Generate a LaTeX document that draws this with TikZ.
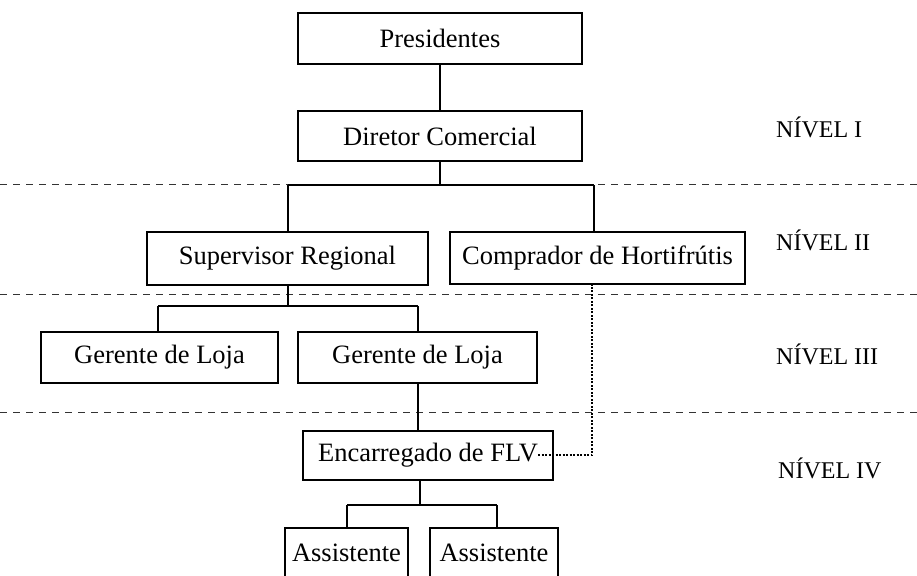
\documentclass[tikz,border=0pt]{standalone}
\usepackage{fontspec}
\setmainfont{Liberation Serif}
\begin{document}
\begin{tikzpicture}[x=1pt,y=-1pt,
  box/.style={draw, line width=1.1pt, inner sep=0pt, font=\fontsize{26.5}{31}\selectfont},
  conn/.style={line width=1.3pt},
  sep/.style={line width=0.6pt, dash pattern=on 7pt off 6pt, black!80},
  dotconn/.style={line width=1.1pt, dash pattern=on 2pt off 1.5pt},
  lvl/.style={anchor=west, inner sep=0pt, font=\fontsize{24}{28}\selectfont}]
\useasboundingbox (0,0) rectangle (917,575);
\clip (0,0) rectangle (917,575);
% level separators
\draw[sep] (0,184) -- (917,184);
\draw[sep] (0,294) -- (917,294);
\draw[sep] (0,412) -- (917,412);
% boxes
\node[box, minimum width=284pt, minimum height=51pt] (pres) at (440,38.5) {Presidentes};
\node[box, minimum width=284pt, minimum height=50pt] (dir) at (440,136) {Diretor Comercial};
\node[box, minimum width=281pt, minimum height=53pt] (sup) at (287.5,258.5) {Supervisor Regional};
\node[box, minimum width=295pt, minimum height=52pt] (comp) at (597.5,258) {Comprador de Hortifrútis};
\node[box, minimum width=237pt, minimum height=51pt] (ger1) at (159.5,357.5) {Gerente de Loja};
\node[box, minimum width=239pt, minimum height=51pt] (ger2) at (417.5,357.5) {Gerente de Loja};
\node[box, minimum width=250pt, minimum height=49pt] (enc) at (428,455.5) {Encarregado de FLV\hspace{8pt}};
\node[box, minimum width=123pt, minimum height=50pt] (as1) at (346.5,553) {Assistente};
\node[box, minimum width=128pt, minimum height=50pt] (as2) at (494,553) {Assistente};
% level labels
\node[lvl] (l1) at (776,127) {NÍVEL I};
\node[lvl] (l2) at (776,240) {NÍVEL II};
\node[lvl] (l3) at (776,354) {NÍVEL III};
\node[lvl] (l4) at (778,468) {NÍVEL IV};
% coordinates for bars
\coordinate (b1) at (440,185);
\coordinate (b1l) at (288,185);
\coordinate (b1r) at (594,185);
\coordinate (b2) at (288,306);
\coordinate (b2l) at (158,306);
\coordinate (b2r) at (418,306);
\coordinate (g2d) at (418,383);
\coordinate (b3) at (420,505);
\coordinate (b3l) at (347,505);
\coordinate (b3r) at (497,505);
\coordinate (dotstart) at (538,455);
\coordinate (dotcorner) at (592,455);
% connectors
\draw[conn] (pres.south) -- (dir.north);
\draw[conn] (dir.south) -- (b1);
\draw[conn] (b1l) -- (b1r);
\draw[conn] (b1l) -- (b1l |- sup.north);
\draw[conn] (b1r) -- (b1r |- comp.north);
\draw[conn] (b2 |- sup.south) -- (b2);
\draw[conn] (b2l) -- (b2r);
\draw[conn] (b2l) -- (b2l |- ger1.north);
\draw[conn] (b2r) -- (b2r |- ger2.north);
\draw[conn] (g2d) -- (g2d |- enc.north);
\draw[conn] (b3 |- enc.south) -- (b3);
\draw[conn] (b3l) -- (b3r);
\draw[conn] (b3l) -- (b3l |- as1.north);
\draw[conn] (b3r) -- (b3r |- as2.north);
\draw[dotconn] (dotstart) -- (dotcorner) -- (dotcorner |- comp.south);
\end{tikzpicture}
\end{document}
